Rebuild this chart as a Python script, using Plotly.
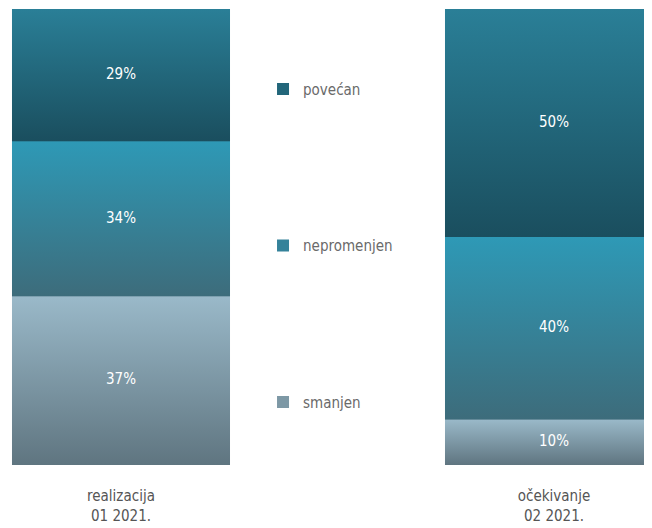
import plotly.graph_objects as go

FONT = "DejaVu Sans Condensed, Liberation Sans Narrow, Roboto, sans-serif"

# data
periods = ["realizacija<br>01 2021.", "očekivanje<br>02 2021."]
categories = ["smanjen", "nepromenjen", "povećan"]
smanjen = [37, 10]
nepromenjen = [34, 40]
povecan = [29, 50]
values = {"smanjen": smanjen, "nepromenjen": nepromenjen, "povećan": povecan}

# top/bottom colours of each segment's vertical gradient, plus a flat legend colour
GRADIENT = {
    "smanjen": ("#9ab9c9", "#5f7580"),
    "nepromenjen": ("#2e99b6", "#3d6c7b"),
    "povećan": ("#2a7f97", "#1a4e5e"),
}
LEGEND_COLOR = {"smanjen": "#7d98a5", "nepromenjen": "#34829a", "povećan": "#22667a"}
LEGEND_RANK = {"povećan": 1, "nepromenjen": 2, "smanjen": 3}

BAR_W = 0.5035
xpos = list(range(len(periods)))

fig = go.Figure()

# stacked bars carry the legend; gradient fills are drawn over them
for cat in categories:
    fig.add_trace(go.Bar(
        x=xpos,
        y=values[cat],
        width=BAR_W,
        name=cat,
        legendgroup=cat,
        legendrank=LEGEND_RANK[cat],
        marker=dict(color=LEGEND_COLOR[cat], line=dict(width=0)),
        hoverinfo="skip",
    ))

base = [0] * len(periods)
text_x, text_y, text_s = [], [], []
for cat in categories:
    top_c, bot_c = GRADIENT[cat]
    for i, v in enumerate(values[cat]):
        x0, x1 = xpos[i] - BAR_W / 2, xpos[i] + BAR_W / 2
        y0, y1 = base[i], base[i] + v
        fig.add_trace(go.Scatter(
            x=[x0, x1, x1, x0, x0],
            y=[y0, y0, y1, y1, y0],
            mode="lines",
            line=dict(width=0),
            fill="toself",
            fillgradient=dict(type="vertical", start=y0, stop=y1,
                              colorscale=[[0, bot_c], [1, top_c]]),
            showlegend=False,
            hoverinfo="skip",
        ))
        text_x.append(xpos[i])
        text_y.append(y0 + v / 2)
        text_s.append(f"{v}%")
        base[i] = y1

fig.add_trace(go.Scatter(
    x=text_x, y=text_y, text=text_s, mode="text",
    textfont=dict(family=FONT, size=15, color="white"),
    showlegend=False, hoverinfo="skip",
))

fig.update_layout(
    width=644,
    height=520,
    barmode="stack",
    font=dict(family=FONT, size=15, color="#555555"),
    paper_bgcolor="white",
    plot_bgcolor="white",
    margin=dict(l=0, r=0, t=1, b=63),
    showlegend=True,
    legend=dict(
        x=0.396, xanchor="left", y=0.860, yanchor="top",
        traceorder="grouped", tracegroupgap=134,
        font=dict(family=FONT, size=15, color="#6a6a6a"),
        bgcolor="rgba(0,0,0,0)",
    ),
)
fig.update_xaxes(
    range=[-113 / 433, 531 / 433],
    tickvals=xpos, ticktext=periods,
    showgrid=False, zeroline=False, showline=False, ticks="",
    ticklabelstandoff=20,
    tickfont=dict(family=FONT, size=15, color="#555555"),
)
fig.update_yaxes(range=[0, 100], visible=False, showgrid=False, zeroline=False)

fig.write_html("out.html")
